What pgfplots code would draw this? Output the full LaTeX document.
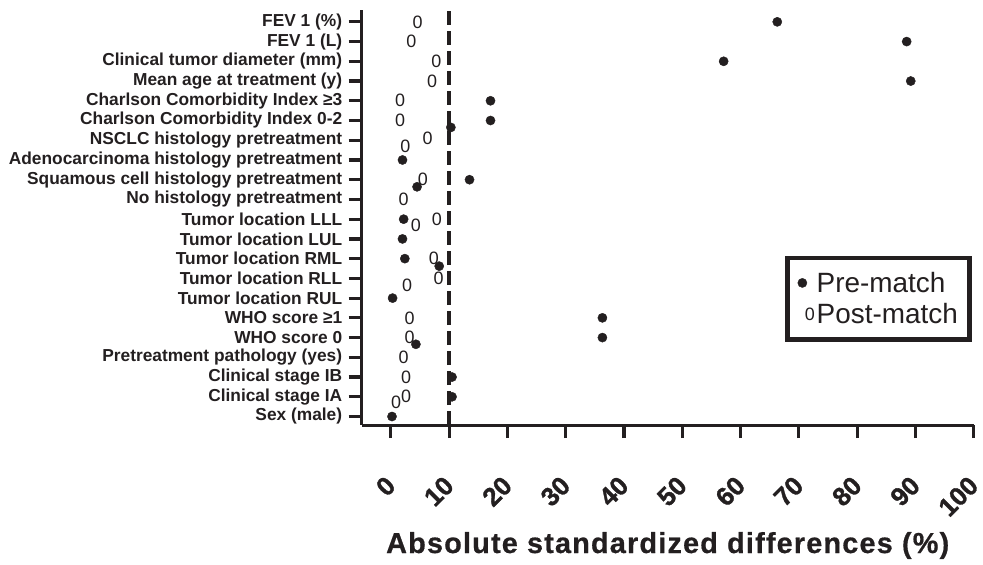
\documentclass[border=0pt]{standalone}
\usepackage{fontspec}
\setmainfont{Liberation Sans}
\newfontfamily\titlefont[LetterSpace=4,FakeBold=0.6]{Liberation Sans Bold}
\newfontfamily\tickfont[FakeBold=1.2]{Liberation Sans Bold}
\usepackage{pgfplots}
\pgfplotsset{compat=1.18}
\definecolor{ink}{HTML}{231F20}
\begin{document}
\begin{tikzpicture}
\begin{axis}[
  scale only axis, width=612bp, height=415bp,
  xmin=-5, xmax=100, ymin=-0.43, ymax=20.6,
  clip=false,
  axis lines=left,
  axis line style={-, line width=3bp, ink},
  xtick={0,10,...,100},
  ytick={0,1,...,20},
  yticklabels={Sex (male), Clinical stage IA, Clinical stage IB, Pretreatment pathology (yes), WHO score 0, WHO score ≥1, Tumor location RUL, Tumor location RLL, Tumor location RML, Tumor location LUL, Tumor location LLL, No histology pretreatment, Squamous cell histology pretreatment, Adenocarcinoma histology pretreatment, NSCLC histology pretreatment, Charlson Comorbidity Index 0-2, Charlson Comorbidity Index ≥3, Mean age at treatment (y), Clinical tumor diameter (mm), FEV 1 (L), FEV 1 (\%)},
  tick align=outside,
  major tick length=13bp,
  tick style={line width=3.2bp, ink},
  /pgf/number format/assume math mode=true,
  y tick label style={font=\fontsize{17.4}{20}\selectfont\bfseries, text=ink, xshift=-3bp},
  x tick label style={font=\fontsize{26}{30}\tickfont, text=ink, rotate=45, anchor=east, inner sep=0pt},
  xticklabel shift=43bp,
  xlabel={Absolute standardized differences (\%)},
  xlabel style={font=\fontsize{29}{34}\titlefont, text=ink, at={(axis description cs:0.5,0)}, anchor=base, yshift=-128bp},
  legend style={at={(1,0.408)}, xshift=-1.5bp, anchor=north east, draw=ink, line width=4.8bp,
    font=\fontsize{28}{32}\selectfont, text=ink, inner xsep=10bp, inner ysep=12bp, row sep=6bp},
  legend cell align=left,
  legend image code/.code={\draw[mark repeat=2,mark phase=2,#1] plot coordinates {(0bp,0bp) (7bp,0bp) (14bp,0bp)};},
]
% reference line at 10%
\addplot[ink, line width=3.5bp, dash pattern=on 14bp off 6bp, forget plot] coordinates {(10,-0.43) (10,20.6)};

% Pre-match
\addplot[only marks, mark=*, mark size=4.6bp, ink, mark options={line width=0.4bp, fill=ink, draw=ink}] coordinates {
(66.3,20) (88.5,19) (57.1,18) (89.2,17) (17.1,16) (17.1,15) (10.3,14.65)
(2.0,13) (13.5,12) (4.5,11.64) (2.2,10) (2.0,9) (2.4,8) (8.3,7.62)
(0.3,6) (36.3,5) (36.3,4) (4.3,3.66) (10.5,2) (10.5,1) (0.2,0)
};
\addlegendentry{Pre-match}

% Post-match
\addplot[only marks, mark=text, text mark={0}, text mark as node=true, text mark style={font=\fontsize{18}{18}\selectfont, text=ink, inner sep=0pt}] coordinates {
(4.6,20) (3.5,19) (7.8,18) (7.1,17) (1.6,16) (1.6,15) (6.3,14.1)
(2.5,13.7) (5.5,12) (2.2,11) (7.9,10) (4.3,9.67) (7.4,8) (8.2,7)
(2.8,6.65) (3.2,5) (3.2,4) (2.2,3) (2.6,2) (2.6,1) (0.9,0.7)
};
\addlegendentry{Post-match}
\end{axis}
\pgfresetboundingbox
\path (current axis.south west) ++(-361.7bp,-140bp) rectangle ++(983bp,565bp);
\end{tikzpicture}
\end{document}
